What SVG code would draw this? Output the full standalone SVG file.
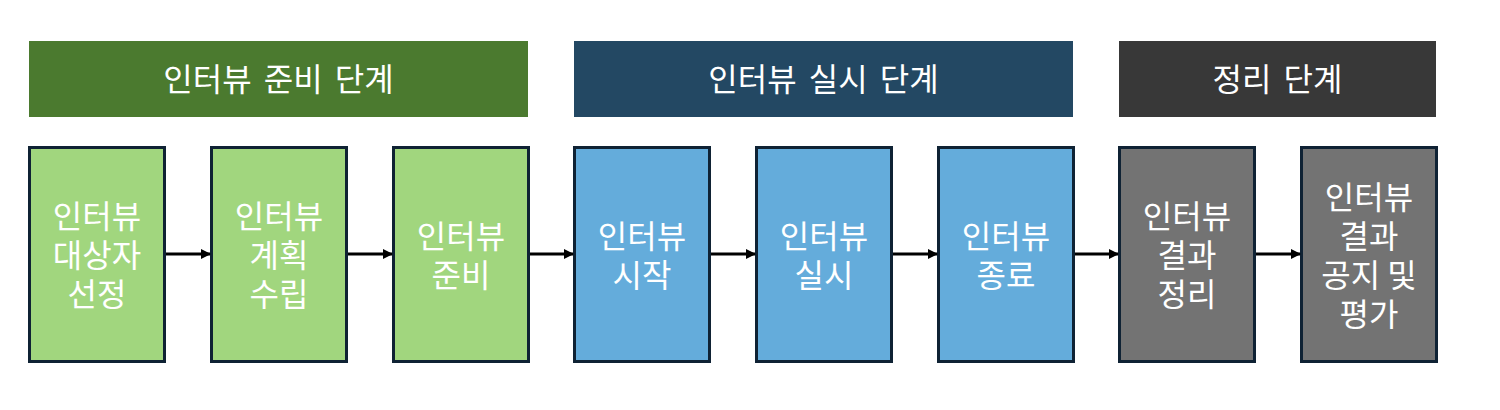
<svg xmlns="http://www.w3.org/2000/svg" width="1500" height="410" viewBox="0 0 1500 410">
<defs>
<style>
.hd{font-family:"Noto Sans CJK KR","Noto Sans",sans-serif;font-size:32px;word-spacing:5px;fill:#fff;text-anchor:middle;dominant-baseline:central}
.bx{stroke:#0f2234;stroke-width:3}
.tx{font-family:"Noto Sans CJK KR","Noto Sans",sans-serif;font-size:32px;fill:#fff;text-anchor:middle;dominant-baseline:central}
.g{fill:#a1d67e}.b{fill:#64acdb}.k{fill:#737373}
.cn{stroke:#000;stroke-width:3;fill:none;marker-end:url(#ah)}
</style>
<marker id="ah" markerWidth="10" markerHeight="10" refX="9" refY="5" orient="auto" markerUnits="userSpaceOnUse">
<path d="M0,0 L10,5 L0,10 Z" fill="#000"/>
</marker>
</defs>
<g id="h1"><rect x="29" y="41" width="499" height="76" fill="#4b7a2f"/><text class="hd" x="278.5" y="77">인터뷰 준비 단계</text></g>
<g id="h2"><rect x="574" y="41" width="499" height="76" fill="#234863"/><text class="hd" x="823.5" y="77">인터뷰 실시 단계</text></g>
<g id="h3"><rect x="1119" y="41" width="317" height="76" fill="#383838"/><text class="hd" x="1277.5" y="77">정리 단계</text></g>
<g id="n1"><rect class="bx g" x="29.5" y="147.5" width="135" height="214"/><text class="tx" x="97" y="214">인터뷰</text><text class="tx" x="97" y="253">대상자</text><text class="tx" x="97" y="292">선정</text></g>
<g id="n2"><rect class="bx g" x="211.5" y="147.5" width="135" height="214"/><text class="tx" x="279" y="214">인터뷰</text><text class="tx" x="279" y="253">계획</text><text class="tx" x="279" y="292">수립</text></g>
<g id="n3"><rect class="bx g" x="393.5" y="147.5" width="135" height="214"/><text class="tx" x="461" y="234">인터뷰</text><text class="tx" x="461" y="273">준비</text></g>
<g id="n4"><rect class="bx b" x="574.5" y="147.5" width="135" height="214"/><text class="tx" x="642" y="234">인터뷰</text><text class="tx" x="642" y="273">시작</text></g>
<g id="n5"><rect class="bx b" x="756.5" y="147.5" width="135" height="214"/><text class="tx" x="824" y="234">인터뷰</text><text class="tx" x="824" y="273">실시</text></g>
<g id="n6"><rect class="bx b" x="938.5" y="147.5" width="135" height="214"/><text class="tx" x="1006" y="234">인터뷰</text><text class="tx" x="1006" y="273">종료</text></g>
<g id="n7"><rect class="bx k" x="1119.5" y="147.5" width="135" height="214"/><text class="tx" x="1187" y="214">인터뷰</text><text class="tx" x="1187" y="253">결과</text><text class="tx" x="1187" y="292">정리</text></g>
<g id="n8"><rect class="bx k" x="1301.5" y="147.5" width="135" height="214"/><text class="tx" x="1369" y="195">인터뷰</text><text class="tx" x="1369" y="234">결과</text><text class="tx" x="1369" y="273">공지 및</text><text class="tx" x="1369" y="312">평가</text></g>
<g id="connectors">
<line class="cn" x1="166" y1="254" x2="210" y2="254"/>
<line class="cn" x1="348" y1="254" x2="392" y2="254"/>
<line class="cn" x1="530" y1="254" x2="573" y2="254"/>
<line class="cn" x1="711" y1="254" x2="755" y2="254"/>
<line class="cn" x1="893" y1="254" x2="937" y2="254"/>
<line class="cn" x1="1075" y1="254" x2="1118" y2="254"/>
<line class="cn" x1="1256" y1="254" x2="1300" y2="254"/>
</g>
</svg>
